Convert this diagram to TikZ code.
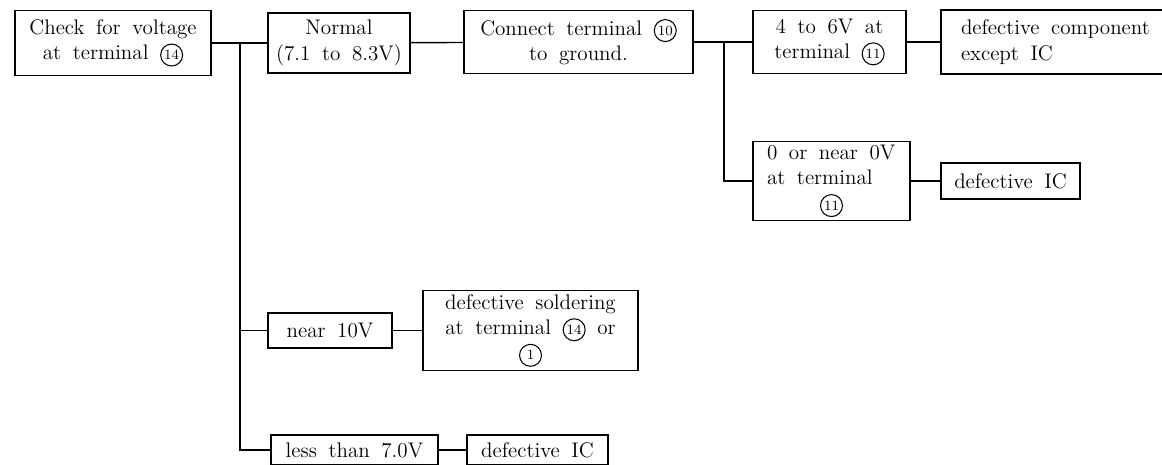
\documentclass[tikz,border=0pt]{standalone}
\usetikzlibrary{positioning}
\newcommand{\term}[1]{\tikz[baseline=(t.base)]\node[draw,circle,line width=0.6pt,inner sep=0pt,minimum size=12.5pt,font=\footnotesize](t){#1};}
\newcommand{\boxfont}{\fontsize{12}{14.5}\selectfont\spaceskip=0.55em plus 0.2em minus 0.1em\relax}

\begin{document}
\begin{tikzpicture}[
    box/.style={draw, line width=0.8pt, align=center, inner sep=2pt, font=\boxfont},
    wire/.style={line width=0.8pt}
  ]
    \useasboundingbox (0,0) rectangle (23.24,-9.3);

    % main row
    \node[box, minimum width=3.92cm, minimum height=1.3cm] (check) at (2.26,-0.86) {Check for voltage\\at terminal \term{14}};
    \node[box, minimum width=2.84cm, minimum height=1.2cm] (normal) at (6.78,-0.86) {Normal\\(7.1 to 8.3V)};
    \node[box, minimum width=4.58cm, minimum height=1.26cm] (ground) at (11.57,-0.84) {Connect terminal \term{10}\\to ground.};
    \node[box, minimum width=3.06cm, minimum height=1.26cm] (mid) at (16.59,-0.84) {4 to 6V at\\terminal \term{11}};
    \node[box, minimum height=1.28cm, text width=4.0cm, inner xsep=0.4cm, align=left] (notic) at (21.22,-0.84) {\boxfont defective component\\except IC};

    % branch from terminal 11
    \node[box, minimum height=1.56cm, text width=2.58cm, inner xsep=0.28cm, align=left] (low) at (16.63,-3.62) {\boxfont 0 or near 0V\\at terminal\\\makebox[\linewidth]{\term{11}}};
    \node[box, minimum width=2.78cm, minimum height=0.72cm] (ic) at (20.21,-3.62) {defective IC};

    % branches from terminal 14
    \node[box, minimum width=2.48cm, minimum height=0.7cm] (high) at (6.6,-6.61) {near 10V};
    \node[box, minimum width=4.3cm, minimum height=1.58cm] (solder) at (10.61,-6.61) {defective soldering\\at terminal \term{14} or\\\term{1}};
    \node[box, minimum width=3.34cm, minimum height=0.6cm] (under) at (7.09,-9.0) {less than 7.0V};
    \node[box, minimum width=2.82cm, minimum height=0.6cm] (icb) at (10.75,-9.0) {defective IC};

    \coordinate (j1) at (4.8,-0.86);
    \coordinate (j2) at (14.48,-0.84);

    \draw[wire] (check) -- (normal);
    \draw[wire] (normal) -- (ground);
    \draw[wire] (ground) -- (mid);
    \draw[wire] (mid) -- (notic);
    \draw[wire] (j2) |- (low.west);
    \draw[wire] (low) -- (ic);
    \draw[wire] (j1) |- (high.west);
    \draw[wire] (j1) |- (under.west);
    \draw[wire] (high) -- (solder);
    \draw[wire] (under) -- (icb);
  \end{tikzpicture}
\end{document}
